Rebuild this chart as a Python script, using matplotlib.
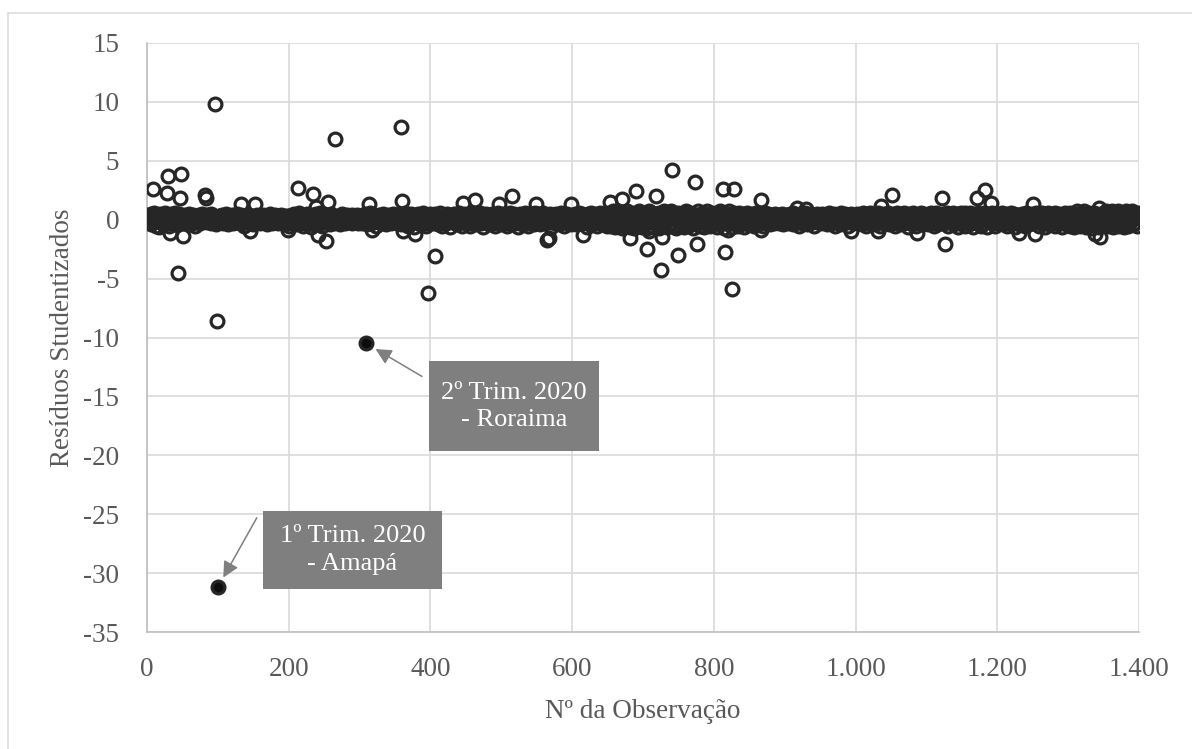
import matplotlib
matplotlib.use('Agg')
import matplotlib.pyplot as plt
from matplotlib.patches import Rectangle
from matplotlib.ticker import FuncFormatter

plt.rcParams['font.family'] = ['Liberation Serif', 'DejaVu Serif']
plt.rcParams['axes.unicode_minus'] = False

# resíduos da faixa central, obs. 1 a 1400 (50 por linha)
residuos_faixa = [
    .3,-.2,.4,.1,-.4,.5,0,.2,-.3,.6,.1,-.5,.3,-.1,.4,.2,-.6,.1,.5,-.2,0,.3,-.4,.2,.6,-.1,.3,.1,-.3,.4,-.5,.2,0,.5,-.2,.3,.1,-.4,.2,.6,-.1,.4,-.3,.1,.5,-.6,.2,-.2,.3,.1,
    -.3,.2,.4,-.1,.1,.3,-.2,0,.5,-.4,.2,.1,-.3,.3,.4,-.1,.2,-.5,.1,.3,0,-.2,.4,.2,-.3,.1,.5,-.1,.3,0,.2,-.4,.1,.4,-.2,.3,.1,-.1,.2,-.3,.5,0,.2,-.2,.3,.1,-.4,.2,.4,-.1,
    .1,.3,-.2,.2,0,.4,-.3,.1,.2,-.1,.5,-.2,.3,.1,-.4,.2,0,.3,-.1,.4,.1,-.3,.2,.3,-.2,0,.5,-.1,.2,.1,-.3,.4,.2,-.2,.1,.3,-.5,.2,0,.3,-.1,.2,.4,-.3,.1,.2,-.2,.3,0,-.4,
    .2,.1,-.2,.3,.4,-.1,0,.2,-.3,.1,.3,.2,-.2,.4,0,-.1,.2,.3,-.4,.1,.2,-.2,.5,0,.1,-.3,.3,.2,-.1,.4,0,-.2,.1,.3,-.3,.2,.1,-.1,.4,.2,-.2,0,.3,.1,-.4,.2,.3,-.1,.1,-.5,
    .3,-.2,.1,.4,0,-.3,.2,.5,-.1,.2,.1,-.4,.3,-.2,.6,.1,-.3,.2,.4,-.5,.1,.3,-.2,.2,0,.5,-.4,.1,.3,-.1,.2,-.6,.4,.1,-.2,.3,0,.5,-.3,.2,.1,-.4,.3,.6,-.2,.1,-.5,.4,.2,-.1,
    .2,-.3,.4,.1,-.2,.3,0,-.4,.5,.1,-.1,.2,.3,-.3,.1,.4,-.2,0,.2,-.1,.3,.1,-.4,.2,.5,-.2,0,.3,.1,-.3,.2,.4,-.1,.1,-.2,.3,0,.2,-.3,.4,.1,-.1,.2,.3,-.2,0,.4,-.3,.1,.2,
    -.1,.3,.2,-.3,.4,.1,-.2,.5,0,.2,-.4,.3,.1,-.1,.6,-.3,.2,.1,-.2,.4,0,.3,-.5,.2,.1,-.1,.3,.4,-.2,0,.2,-.3,.5,.1,-.1,.3,.2,-.4,.1,.4,-.2,0,.3,.1,-.3,.2,.5,-.1,.2,-.2,
    .3,.1,-.3,.4,.2,-.1,.5,-.4,.1,.3,-.2,.2,0,.6,-.3,.1,.4,-.5,.2,.3,-.1,0,.5,-.2,.1,.3,-.6,.2,.4,-.1,.1,-.3,.5,.2,-.2,.3,0,-.4,.6,.1,-.2,.3,.2,-.5,.4,0,.1,-.3,.3,.5,
    -.2,.1,.4,-.3,.2,.5,-.1,0,.3,-.4,.2,.1,-.2,.6,.3,-.5,.1,.2,-.1,.4,0,-.3,.5,.2,-.2,.1,.3,-.6,.4,.1,-.1,.2,.5,-.3,0,.3,.1,-.4,.2,.6,-.2,.1,.4,-.5,.2,.3,-.1,.1,.5,-.3,
    .2,.4,-.2,.1,.3,-.5,.6,0,-.3,.2,.4,-.1,.1,.5,-.4,.3,.2,-.2,0,.6,-.3,.1,.4,-.6,.2,.3,-.1,.5,-.2,.1,.2,-.4,.4,0,-.1,.3,.5,-.3,.2,.1,-.5,.4,.3,-.2,.6,.1,-.1,.2,-.4,.3,
    .1,-.3,.5,.2,-.1,.4,0,-.5,.3,.2,-.2,.6,.1,-.4,.3,.2,-.1,.5,-.3,0,.4,.1,-.6,.2,.3,-.2,.5,.1,-.4,.4,.2,-.1,0,.6,-.3,.2,.1,-.5,.4,.3,-.2,.1,.5,-.1,.2,-.4,.3,.6,-.2,.1,
    .4,-.2,.2,.5,-.4,.1,.3,-.1,.6,0,-.3,.2,.4,-.5,.1,.3,-.2,.2,.5,-.6,.1,.4,-.1,.2,0,-.3,.5,.3,-.2,.1,.4,-.4,.2,.6,-.1,.3,0,-.5,.2,.4,-.2,.1,.5,-.3,.3,.2,-.1,.6,-.4,.2,
    .1,.3,-.2,.5,.2,-.4,.4,0,-.1,.6,.2,-.3,.1,.5,-.5,.3,.2,-.2,.4,.1,-.6,.5,.3,-.1,.2,-.4,.6,.1,-.3,.3,.2,-.2,.5,0,-.5,.4,.3,-.1,.6,-.3,.2,.1,-.4,.5,.3,-.2,.2,.6,-.5,.1,
    .4,-.3,.6,.2,-.5,.3,.7,-.2,.1,.5,-.6,.4,.2,-.4,.7,.1,-.3,.5,.3,-.7,.2,.6,-.1,.4,-.5,.3,.7,-.2,.1,.5,-.6,.4,.2,-.3,.6,.1,-.7,.5,.3,-.2,.4,.6,-.4,.2,.7,-.5,.3,.1,-.6,.5,
    .2,-.4,.6,.3,-.7,.5,.1,-.3,.7,.4,-.5,.2,.6,-.2,.3,-.6,.5,.7,-.4,.1,.4,-.7,.6,.2,-.3,.5,.3,-.5,.7,.1,-.2,.6,.4,-.6,.3,.5,-.4,.2,.7,-.3,.1,.6,-.5,.4,.3,-.7,.5,.2,-.2,.6,
    .3,-.5,.5,.1,-.4,.6,.2,-.6,.4,.7,-.2,.3,.5,-.5,.1,.6,-.3,.4,.2,-.7,.5,.3,-.1,.6,-.4,.2,.7,-.3,.4,.1,-.5,.5,.3,-.2,.6,-.6,.2,.4,-.3,.7,.1,-.4,.5,.3,-.5,.2,.6,-.2,.4,-.1,
    .5,-.3,.2,.6,-.6,.4,.1,-.4,.7,.3,-.2,.5,.2,-.7,.6,.1,-.3,.4,.5,-.5,.3,.7,-.1,.2,-.6,.5,.4,-.2,.6,.1,-.4,.3,.5,-.5,.2,.6,-.3,.4,.1,-.2,.5,.3,-.6,.4,.2,-.1,.6,-.4,.3,.5,
    -.2,.4,.1,-.3,.5,.2,-.5,.3,.6,-.1,.2,.4,-.4,.1,.5,-.2,.3,.2,-.5,.4,0,.6,-.3,.2,.1,-.1,.5,.3,-.4,.2,.4,-.2,.1,.3,-.3,.5,0,.2,-.1,.4,.1,-.3,.3,.2,-.2,.5,0,-.4,.3,.1,
    .2,-.1,.4,.3,-.3,.1,.5,-.2,.2,0,.6,-.4,.3,.1,-.2,.4,.2,-.1,.3,-.5,.1,.5,0,-.3,.2,.4,-.1,.1,.6,-.2,.3,-.4,.2,.1,.5,-.3,0,.3,-.1,.2,.4,-.5,.1,.3,-.2,.5,.2,-.1,0,.4,
    -.3,.2,.5,.1,-.2,.3,0,.4,-.4,.2,.1,-.1,.6,.3,-.3,.2,.4,-.2,.1,.5,-.5,.3,0,.2,-.1,.4,.3,-.4,.1,.6,-.2,.2,.3,-.3,.5,.1,-.1,.4,0,-.5,.3,.2,-.2,.5,.1,-.3,.4,.2,-.1,.3,
    .1,.5,-.3,.2,.4,-.1,0,.3,-.4,.6,.2,-.2,.1,.5,-.5,.3,.4,-.1,.2,-.3,.6,.1,0,.4,-.2,.3,.5,-.4,.2,.1,-.1,.6,.3,-.5,.2,.4,-.2,.1,.5,-.3,.3,0,.4,-.1,.2,.6,-.4,.1,.3,-.2,
    .4,-.3,.2,.5,.1,-.5,.3,.6,-.2,.2,.4,-.4,.1,.5,-.1,.3,0,-.3,.6,.2,-.2,.4,.1,-.6,.5,.3,-.1,.2,-.4,.4,.6,-.2,.1,.3,-.5,.5,.2,-.1,.4,-.3,.1,.6,.3,-.4,.2,.5,-.2,.1,.4,-.1,
    .3,-.4,.5,.2,-.1,.6,.1,-.3,.4,.2,-.5,.3,.6,-.2,.1,.5,-.4,.2,.4,-.1,.3,-.6,.5,.2,-.3,.4,.1,-.2,.6,.3,-.5,.2,.4,-.1,.5,-.3,.2,.6,-.4,.1,.3,-.2,.5,.2,-.6,.4,.1,-.3,.6,.2,
    -.2,.4,.3,-.5,.6,.1,-.1,.5,.2,-.4,.3,.6,-.3,.2,.4,-.6,.5,.1,-.2,.3,.5,-.4,.2,.6,-.1,.3,-.5,.4,.2,-.3,.6,.1,-.2,.5,.3,-.6,.4,.2,-.1,.5,-.4,.3,.6,-.2,.1,.4,-.5,.3,.2,-.3,
    .5,.1,-.3,.4,.2,-.2,.6,-.4,.3,.1,-.1,.5,.2,-.5,.4,.3,-.2,.1,.6,-.3,.2,.4,-.1,.5,-.6,.3,.1,-.2,.4,.6,-.4,.2,.3,-.1,.5,-.3,.2,.1,-.5,.6,.4,-.2,.3,.1,-.4,.5,.2,-.1,.3,-.3,
    .2,.5,-.4,.3,.6,-.2,.1,.4,-.5,.3,.2,-.1,.6,-.3,.4,.1,-.6,.5,.2,-.2,.3,.6,-.4,.1,.4,-.1,.5,.2,-.3,.3,.6,-.5,.2,.4,-.2,.1,.5,-.3,.3,.2,-.6,.4,.1,-.1,.6,.3,-.4,.2,.5,-.2,
    .3,-.5,.6,.2,-.3,.5,.1,-.6,.4,.3,-.2,.7,.2,-.4,.5,.1,-.5,.6,.3,-.3,.4,.7,-.1,.2,-.6,.5,.3,-.4,.6,.1,-.2,.5,.4,-.7,.3,.6,-.3,.2,.5,-.5,.4,.1,-.6,.7,.3,-.2,.5,.2,-.4,.6,
    .4,-.3,.5,.7,-.5,.2,.6,-.4,.3,.5,-.2,.7,.1,-.6,.4,.6,-.3,.5,.2,-.5,.7,.3,-.4,.6,.1,-.2,.5,.4,-.6,.3,.7,-.3,.2,.6,-.5,.4,.5,-.2,.3,.7,-.4,.1,.6,-.3,.5,.2,-.5,.6,.4,.3,
]

# observações com resíduos mais afastados de zero
obs_destaque = [9, 28, 30, 32, 44, 46, 48, 51, 82, 83, 96, 99, 133, 145, 152, 199,
                213, 234, 239, 241, 252, 255, 266, 314, 317, 359, 360, 361, 378, 397,
                407, 446, 463, 497, 515, 549, 564, 568, 598, 615, 653, 671, 682, 690,
                706, 708, 718, 725, 727, 741, 749, 774, 776, 813, 816, 820, 826, 828,
                866, 867, 917, 930, 993, 1031, 1036, 1051, 1086, 1122, 1126, 1172,
                1183, 1191, 1230, 1251, 1253, 1338, 1344, 1345]
res_destaque = [2.6, 2.3, 3.7, -1.1, -4.5, 1.8, 3.9, -1.4, 2.1, 1.8, 9.8, -8.6, 1.3, -1.0, 1.3, -0.85,
                2.7, 2.2, 1.1, -1.3, -1.8, 1.5, 6.85, 1.3, -0.85, 7.85, 1.55, -1.0, -1.2, -6.2,
                -3.1, 1.4, 1.7, 1.3, 2.05, 1.3, -1.7, -1.55, 1.3, -1.3, 1.5, 1.75, -1.55, 2.45,
                -2.45, -1.0, 2.05, -4.3, -1.5, 4.25, -3.0, 3.2, -2.05, 2.6, -2.75, -0.85, -5.85, 2.6,
                1.65, -0.85, 1.0, 0.9, -1.0, -1.0, 1.2, 2.1, -1.1, 1.85, -2.05, 1.85,
                2.5, 1.4, -1.1, 1.3, -1.2, -1.25, 1.0, -1.5]

# pontos anotados
obs_rotulos = [100, 309]
res_rotulos = [-31.2, -10.5]
textos_rotulos = ['1º Trim. 2020\n- Amapá', '2º Trim. 2020\n- Roraima']

x_ticks = [0, 200, 400, 600, 800, 1000, 1200, 1400]
y_ticks = [-35, -30, -25, -20, -15, -10, -5, 0, 5, 10, 15]

residuos = list(residuos_faixa)
for o, r in zip(obs_destaque, res_destaque):
    residuos[o - 1] = r
obs = list(range(1, len(residuos) + 1))
obs_abertos = [o for o in obs if o not in obs_rotulos]
res_abertos = [residuos[o - 1] for o in obs_abertos]

cor_texto = '#595959'
cor_grade = '#d9d9d9'
fs = 19.5

fig = plt.figure(figsize=(11.92, 7.49), dpi=100)
ax = fig.add_axes([147 / 1192, 1 - 632 / 749, (1139 - 147) / 1192, (632 - 43) / 749])

# moldura externa do gráfico
fig.add_artist(Rectangle((8 / 1192, -0.05), 1.1, 1 - 13 / 749 + 0.05, transform=fig.transFigure,
                         fill=False, edgecolor=cor_grade, lw=1.1))

ax.plot(obs_abertos, res_abertos, 'o', ms=9.2, mfc='none', mec='#262626', mew=2.3, zorder=3)
ax.plot(obs_rotulos, res_rotulos, 'o', ms=9.2, mfc='#0d0d0d', mec='#262626', mew=2.3, zorder=4)

ax.set_xlim(0, 1400)
ax.set_ylim(-35, 15)
ax.set_xticks(x_ticks)
ax.set_yticks(y_ticks)
ax.xaxis.set_major_formatter(FuncFormatter(lambda v, p: f'{int(v):,}'.replace(',', '.')))
ax.grid(True, color=cor_grade, lw=1.2)
ax.set_axisbelow(True)
for s in ['top', 'right']:
    ax.spines[s].set_visible(False)
for s in ['left', 'bottom']:
    ax.spines[s].set_color('#bfbfbf')
    ax.spines[s].set_linewidth(1.2)
ax.tick_params(length=0, labelsize=fs, labelcolor=cor_texto)
ax.tick_params(axis='y', pad=20)
ax.tick_params(axis='x', pad=18)
ax.set_xlabel('Nº da Observação', fontsize=fs, color=cor_texto, labelpad=12)
ax.set_ylabel('Resíduos Studentizados', fontsize=fs, color=cor_texto, labelpad=6)

# caixas de anotação (x0, x1, y0, y1 em coordenadas de dados)
caixas = [(163.7, 416.3, -31.35, -24.73), (398, 638, -19.64, -12.0)]
inicio_setas = [(155, -25.3), (388, -13.3)]
for o, r, txt, cx, st in zip(obs_rotulos, res_rotulos, textos_rotulos, caixas, inicio_setas):
    ax.add_patch(Rectangle((cx[0], cx[2]), cx[1] - cx[0], cx[3] - cx[2],
                           facecolor='#7f7f7f', edgecolor='none', zorder=5))
    ax.text((cx[0] + cx[1]) / 2, (cx[2] + cx[3]) / 2, txt, ha='center', va='center',
            color='white', fontsize=19, linespacing=1.3, zorder=6)
    ax.annotate('', xy=(o, r), xytext=st, zorder=6,
                arrowprops=dict(arrowstyle='-|>', color='#7f7f7f', lw=1.1,
                                mutation_scale=24, shrinkA=0, shrinkB=8))

fig.savefig('out.png', dpi=100)
